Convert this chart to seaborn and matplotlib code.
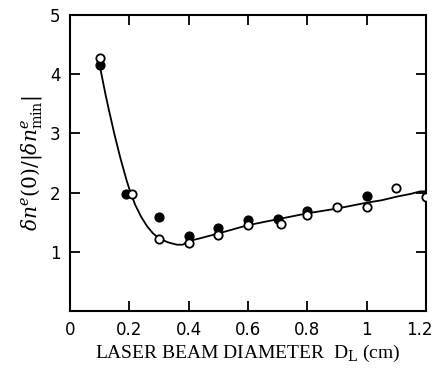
import matplotlib
matplotlib.use("Agg")
import matplotlib.pyplot as plt
import matplotlib.transforms as mtransforms
import seaborn as sns
import pandas as pd

# Data
filled_x = [0.10, 0.19, 0.30, 0.40, 0.50, 0.60, 0.70, 0.80, 1.00]
filled_y = [4.15, 1.97, 1.58, 1.27, 1.41, 1.53, 1.55, 1.69, 1.94]

open_x = [0.10, 0.21, 0.30, 0.40, 0.50, 0.60, 0.71, 0.80, 0.90, 1.00, 1.10, 1.20]
open_y = [4.27, 1.97, 1.22, 1.15, 1.29, 1.45, 1.47, 1.62, 1.75, 1.76, 2.08, 1.93]

curve_x = [0.10, 0.11, 0.12, 0.13, 0.14, 0.15, 0.16, 0.17, 0.18, 0.19, 0.20,
           0.22, 0.24, 0.26, 0.28, 0.30, 0.33, 0.36, 0.38, 0.40, 0.44, 0.50,
           0.60, 0.70, 0.80, 0.90, 1.00, 1.05, 1.10, 1.15, 1.18, 1.20]
curve_y = [4.15, 3.90, 3.65, 3.42, 3.20, 2.98, 2.78, 2.58, 2.40, 2.22, 2.06,
           1.79, 1.59, 1.43, 1.31, 1.23, 1.16, 1.12, 1.12, 1.18, 1.23, 1.31,
           1.45, 1.55, 1.65, 1.73, 1.83, 1.87, 1.93, 1.98, 2.02, 2.02]

x_ticks = [0, 0.2, 0.4, 0.6, 0.8, 1.0, 1.2]
x_tick_labels = ["0", "0.2", "0.4", "0.6", "0.8", "1", "1.2"]
y_ticks = [1, 2, 3, 4, 5]
y_tick_labels = ["1", "2", "3", "4", "5"]

sns.set_style("ticks")
plt.rcParams["font.family"] = ["DejaVu Sans"]
plt.rcParams["mathtext.fontset"] = "dejavuserif"
plt.rcParams["text.color"] = "black"
plt.rcParams["axes.labelcolor"] = "black"
plt.rcParams["xtick.color"] = "black"
plt.rcParams["ytick.color"] = "black"
plt.rcParams["axes.edgecolor"] = "black"

fig = plt.figure(figsize=(4.34, 3.81), dpi=100)
ax = fig.add_axes([70 / 434, 70 / 381, 356 / 434, 296 / 381])

curve = pd.DataFrame({"x": curve_x, "y": curve_y})
sns.lineplot(data=curve, x="x", y="y", ax=ax, color="black", linewidth=1.3,
             sort=False, estimator=None)

fdf = pd.DataFrame({"x": filled_x, "y": filled_y})
odf = pd.DataFrame({"x": open_x, "y": open_y})
sns.scatterplot(data=fdf, x="x", y="y", ax=ax, color="black", s=40,
                edgecolor="black", linewidth=1.0, zorder=3)
sns.scatterplot(data=odf, x="x", y="y", ax=ax, color="white", s=36,
                edgecolor="black", linewidth=1.3, zorder=4)

ax.set_xlim(0, 1.2)
ax.set_ylim(0, 5)
ax.set_xticks(x_ticks)
ax.set_xticklabels(x_tick_labels)
ax.set_yticks(y_ticks)
ax.set_yticklabels(y_tick_labels)
ax.tick_params(direction="in", length=7, width=1.3, labelsize=12,
               top=True, right=True, pad=7, colors="black")
for sp in ax.spines.values():
    sp.set_linewidth(1.5)
    sp.set_visible(True)
    sp.set_color("black")

# keep the last tick label inside the figure
last = ax.get_xticklabels()[-1]
last.set_horizontalalignment("right")
last.set_transform(last.get_transform() +
                   mtransforms.ScaledTranslation(7 / 100, 0, fig.dpi_scale_trans))

ax.set_xlabel("LASER BEAM DIAMETER  D$_{\\rm L}$ (cm)", family="Liberation Serif",
              fontsize=14, labelpad=3)
ax.set_ylabel(r"$\delta n^e(0)/|\delta n^e_{\rm min}|$", fontsize=14.5, labelpad=4)

fig.savefig("out.png", dpi=100)
